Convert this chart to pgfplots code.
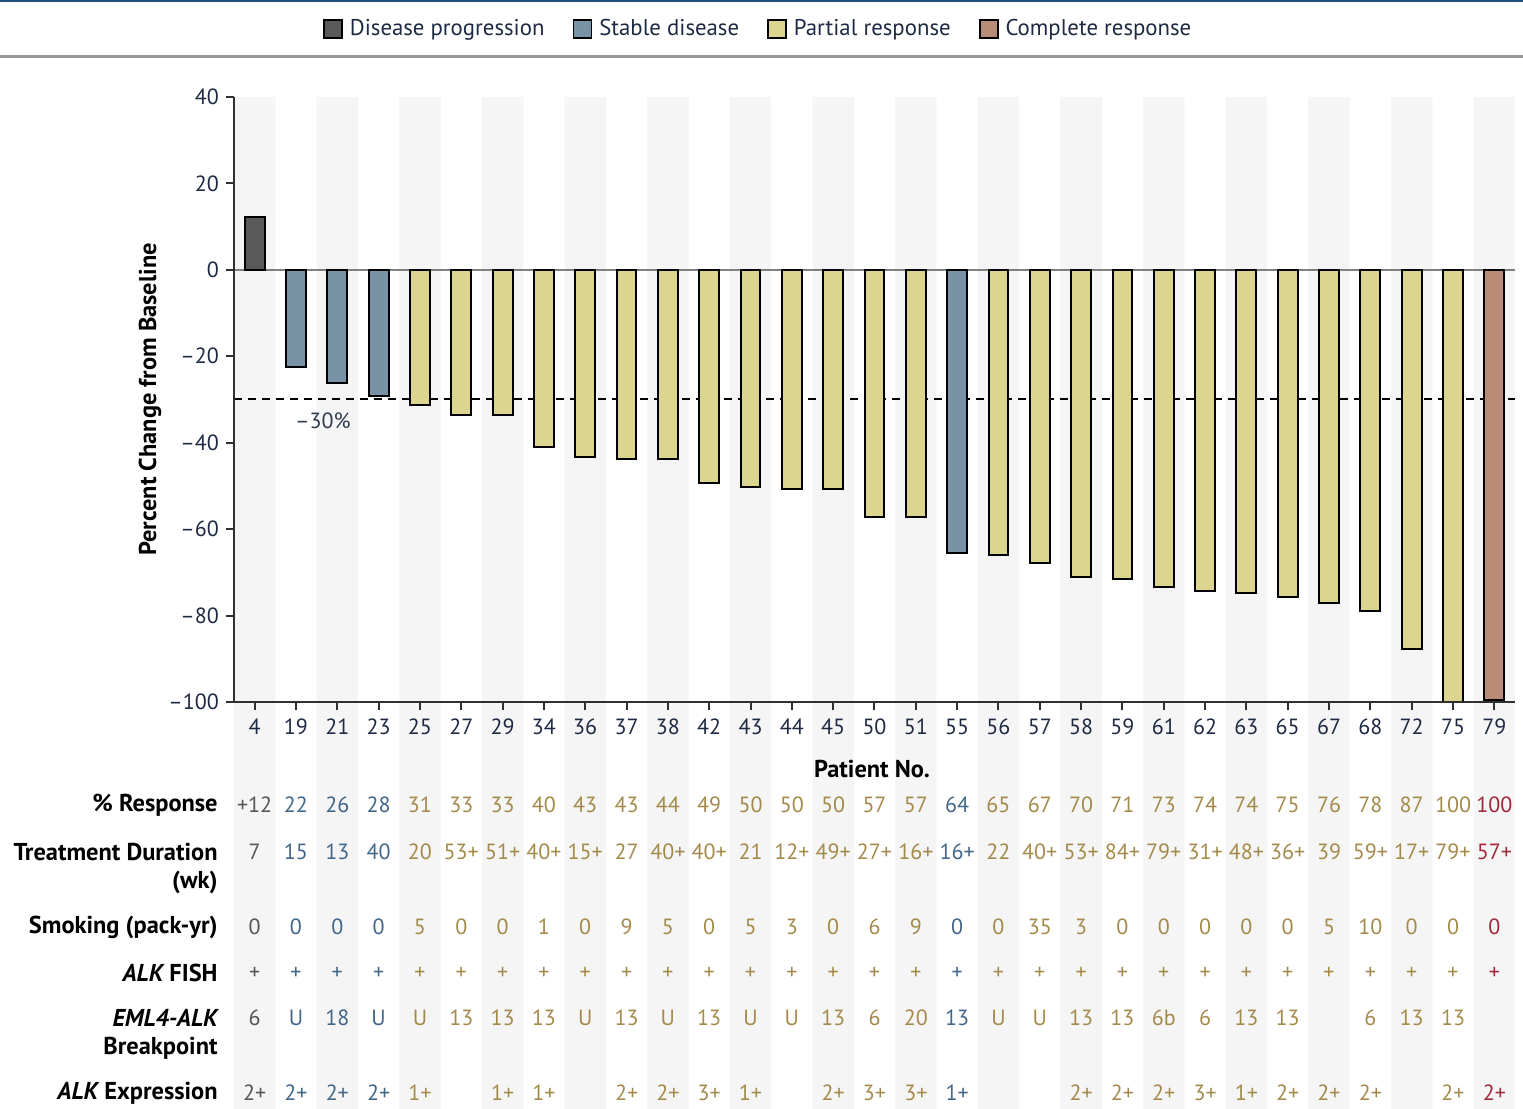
\documentclass[border=0pt]{standalone}
\usepackage{fontspec}
\setmainfont{PT Sans}
\usepackage{pgfplots}
\usepackage{pgfplotstable}
\pgfplotsset{compat=1.18}
\definecolor{cD}{HTML}{595959}
\definecolor{cS}{HTML}{7893A6}
\definecolor{cP}{HTML}{DCD590}
\definecolor{cC}{HTML}{B98B76}
\definecolor{tD}{HTML}{555555}
\definecolor{tS}{HTML}{41668A}
\definecolor{tP}{HTML}{A48A4A}
\definecolor{tC}{HTML}{A0283A}
\definecolor{stripe}{HTML}{F5F5F5}
\definecolor{axc}{HTML}{303030}
\definecolor{tickc}{HTML}{1E2A44}
\definecolor{topblue}{HTML}{1F4E79}
\newcommand{\datafont}{\fontsize{11}{13}\selectfont}
\newcommand{\labfont}{\fontsize{12.2}{14}\selectfont\bfseries}
\pgfplotsset{
  boxlegend/.style={legend image code/.code={\draw[##1, line width=0.9pt] (0pt,-4.5pt) rectangle (9pt,4.5pt);}},
  mybar/.style={ybar, bar width=0.48, bar shift=0pt, draw=black, line width=1pt, boxlegend},
  trow/.style={only marks, mark=*, mark size=0pt, forget plot, nodes near coords, point meta=explicit symbolic,
    nodes near coords style={anchor=center, font=\datafont, inner sep=0pt, text=#1}},
}
% per-patient table values, one table per response group
\pgfplotstableread[col sep=comma]{
x,resp,dur,smoke,fish,eml,expr
0,+12,7,0,+,6,2+
}\tabD
\pgfplotstableread[col sep=comma]{
x,resp,dur,smoke,fish,eml,expr
1,22,15,0,+,U,2+
2,26,13,0,+,18,2+
3,28,40,0,+,U,2+
17,64,16+,0,+,13,1+
}\tabS
\pgfplotstableread[col sep=comma]{
x,resp,dur,smoke,fish,eml,expr
4,31,20,5,+,U,1+
5,33,53+,0,+,13,
6,33,51+,0,+,13,1+
7,40,40+,1,+,13,1+
8,43,15+,0,+,U,
9,43,27,9,+,13,2+
10,44,40+,5,+,U,2+
11,49,40+,0,+,13,3+
12,50,21,5,+,U,1+
13,50,12+,3,+,U,
14,50,49+,0,+,13,2+
15,57,27+,6,+,6,3+
16,57,16+,9,+,20,3+
18,65,22,0,+,U,
19,67,40+,35,+,U,
20,70,53+,3,+,13,2+
21,71,84+,0,+,13,2+
22,73,79+,0,+,6b,2+
23,74,31+,0,+,6,3+
24,74,48+,0,+,13,1+
25,75,36+,0,+,13,2+
26,76,39,5,+,,2+
27,78,59+,10,+,6,2+
28,87,17+,0,+,13,
29,100,79+,0,+,13,2+
}\tabP
\pgfplotstableread[col sep=comma]{
x,resp,dur,smoke,fish,eml,expr
30,100,57+,0,+,,2+
}\tabC
\newcommand{\trows}[2]{%
\addplot[trow=#2] table[x=x, y expr=-123.8, meta=resp] {#1};
\addplot[trow=#2] table[x=x, y expr=-134.7, meta=dur] {#1};
\addplot[trow=#2] table[x=x, y expr=-152.1, meta=smoke] {#1};
\addplot[trow=#2] table[x=x, y expr=-162.7, meta=fish] {#1};
\addplot[trow=#2] table[x=x, y expr=-173.1, meta=eml] {#1};
\addplot[trow=#2] table[x=x, y expr=-190.5, meta=expr] {#1};
}
\begin{document}
\begin{tikzpicture}
\useasboundingbox (-117pt,-203.5pt) rectangle (644.5pt,351pt);
\begin{axis}[
  at={(0,0)}, anchor=south west,
  width=640.5pt, height=302.5pt, scale only axis,
  xmin=-0.5, xmax=30.5, ymin=-100, ymax=40,
  clip=false, axis on top,
  axis x line=bottom, axis y line=left,
  axis line style={-, line width=1pt, color=axc},
  xtick={0,...,30},
  xticklabels={4,19,21,23,25,27,29,34,36,37,38,42,43,44,45,50,51,55,56,57,58,59,61,62,63,65,67,68,72,75,79},
  ytick={-100,-80,-60,-40,-20,0,20,40},
  yticklabels={–100,–80,–60,–40,–20,0,20,40},
  tick align=outside, major tick length=4pt,
  tick style={line width=1pt, color=axc},
  ticklabel style={font=\datafont, text=tickc},
  xticklabel style={yshift=-1pt},
  ylabel={Percent Change from Baseline},
  ylabel style={font=\labfont, text=black, at={(axis description cs:-0.0656,0.5)}, anchor=center},
  legend columns=4,
  legend style={draw=none, fill=none, font=\fontsize{11.4}{13}\selectfont, text=tickc,
    at={(axis description cs:0.41,1.112)}, anchor=center,
    /tikz/every odd column/.append style={column sep=1.5pt},
    /tikz/every even column/.append style={column sep=12pt}},
]
% background stripes
\addplot[ybar, bar width=1, bar shift=0pt, fill=stripe, draw=none, forget plot]
  coordinates {(0,40) (2,40) (4,40) (6,40) (8,40) (10,40) (12,40) (14,40) (16,40) (18,40) (20,40) (22,40) (24,40) (26,40) (28,40) (30,40)};
\addplot[ybar, bar width=1, bar shift=0pt, fill=stripe, draw=none, forget plot]
  coordinates {(0,-195) (2,-195) (4,-195) (6,-195) (8,-195) (10,-195) (12,-195) (14,-195) (16,-195) (18,-195) (20,-195) (22,-195) (24,-195) (26,-195) (28,-195) (30,-195)};
% reference lines
\addplot[color=gray, line width=0.8pt, forget plot] coordinates {(-0.5,0) (30.5,0)};
\addplot[color=black, line width=1pt, dash pattern=on 4pt off 3pt, forget plot] coordinates {(-0.5,-30) (30.5,-30)};
% bars
\addplot[mybar, fill=cD] coordinates {(0,12.2)};
\addlegendentry{Disease progression}
\addplot[mybar, fill=cS] coordinates {(1,-22.5) (2,-26.2) (3,-29.2) (17,-65.5)};
\addlegendentry{Stable disease}
\addplot[mybar, fill=cP] coordinates {(4,-31.3) (5,-33.6) (6,-33.6) (7,-41) (8,-43.3) (9,-43.8) (10,-43.8) (11,-49.3) (12,-50.3) (13,-50.7) (14,-50.7) (15,-57.2) (16,-57.2) (18,-66) (19,-67.8) (20,-71.1) (21,-71.6) (22,-73.4) (23,-74.3) (24,-74.8) (25,-75.7) (26,-77.1) (27,-79) (28,-87.8) (29,-100)};
\addlegendentry{Partial response}
\addplot[mybar, fill=cC] coordinates {(30,-99.6)};
\addlegendentry{Complete response}
% table rows
\trows{\tabD}{tD}
\trows{\tabS}{tS}
\trows{\tabP}{tP}
\trows{\tabC}{tC}
% labels
\node[font=\datafont, text=tickc!80!gray] at (axis cs:1.65,-35) {–30\%};
\node[font=\labfont] at (axis description cs:0.498,-0.1107) {Patient No.};
\node[font=\labfont, anchor=east, inner sep=0pt] at (axis cs:-0.887,-123.8) {\% Response};
\node[font=\labfont, anchor=east, inner sep=0pt] at (axis cs:-0.887,-134.7) {Treatment Duration};
\node[font=\labfont, anchor=east, inner sep=0pt] at (axis cs:-0.887,-141.7) {(wk)};
\node[font=\labfont, anchor=east, inner sep=0pt] at (axis cs:-0.887,-152.1) {Smoking (pack-yr)};
\node[font=\labfont, anchor=east, inner sep=0pt] at (axis cs:-0.887,-162.7) {\itshape ALK\upshape{} FISH};
\node[font=\labfont, anchor=east, inner sep=0pt] at (axis cs:-0.887,-173.1) {\itshape EML4-ALK};
\node[font=\labfont, anchor=east, inner sep=0pt] at (axis cs:-0.887,-180.1) {Breakpoint};
\node[font=\labfont, anchor=east, inner sep=0pt] at (axis cs:-0.887,-190.5) {\itshape ALK\upshape{} Expression};
\end{axis}
\draw[color=gray!80, line width=1.5pt] (-117pt,322.5pt) -- (644.5pt,322.5pt);
\draw[color=topblue, line width=1pt] (-117pt,350.5pt) -- (644.5pt,350.5pt);
\end{tikzpicture}
\end{document}
